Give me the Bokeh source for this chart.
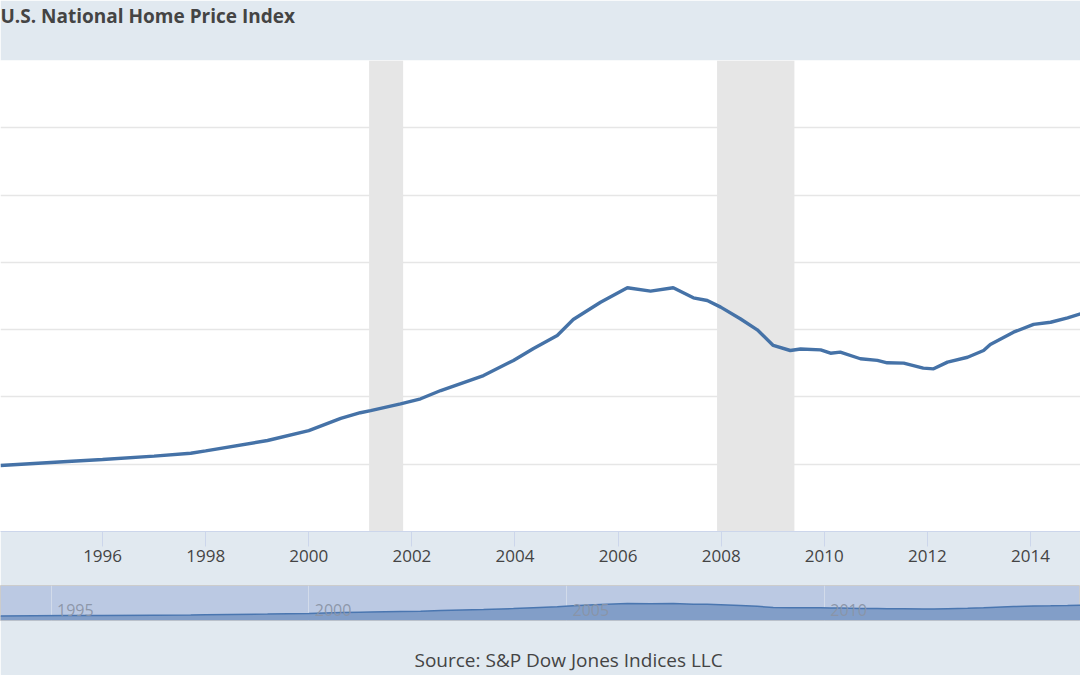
from bokeh.plotting import figure
from bokeh.models import Grid, SingleIntervalTicker, FixedTicker, Title, BasicTickFormatter
from bokeh.layouts import column
from bokeh.embed import file_html
from bokeh.resources import INLINE
from bokeh.core.properties import value

# ---- data ----
years = [1994.02, 1995.32, 1996.00, 1997.00, 1997.71, 1998.00, 1999.20, 2000.00,
         2000.62, 2001.00, 2001.20, 2001.78, 2002.17, 2002.56, 2003.39, 2003.97,
         2004.36, 2004.82, 2005.13, 2005.66, 2006.18, 2006.63, 2007.07, 2007.46,
         2007.73, 2007.99, 2008.37, 2008.70, 2009.01, 2009.34, 2009.54, 2009.93,
         2010.12, 2010.31, 2010.70, 2011.03, 2011.22, 2011.54, 2011.92, 2012.12,
         2012.39, 2012.78, 2013.09, 2013.22, 2013.67, 2014.06, 2014.39, 2014.72,
         2014.97]
index_values = [79.2, 81.6, 82.8, 84.8, 86.5, 87.9, 94.1, 100.0,
                107.2, 110.6, 111.9, 115.9, 118.9, 123.8, 132.7, 141.7,
                148.8, 156.5, 166.0, 176.3, 184.9, 182.9, 184.9, 178.9,
                177.3, 173.4, 166.5, 159.9, 150.6, 147.6, 148.5, 148.0,
                146.0, 146.6, 142.7, 141.7, 140.3, 140.1, 137.1, 136.7,
                140.7, 143.6, 147.6, 151.2, 158.5, 163.1, 164.4, 167.0,
                169.4]
recession_start = [2001.17, 2007.92]
recession_end = [2001.83, 2009.42]
x_ticks = [1994, 1996, 1998, 2000, 2002, 2004, 2006, 2008, 2010, 2012, 2014]
nav_label_years = [1995, 2000, 2005, 2010]
nav_labels = ["1995", "2000", "2005", "2010"]

TITLE = "U.S. National Home Price Index"
SOURCE = "Source: S&P Dow Jones Indices LLC"

W = 1080
X_LO, X_HI = 1994.02, 2014.97
Y_LO, Y_HI = 40, 320
NAV_LO, NAV_HI = 40, 337
BAND = "#e1e9f0"
FONT = "Open Sans"

# ---- main chart ----
p = figure(width=W, height=585, x_range=(X_LO, X_HI), y_range=(Y_LO, Y_HI),
           y_axis_location=None, output_backend="svg", toolbar_location=None,
           min_border_left=0, min_border_right=0, min_border_top=60,
           min_border_bottom=54, background_fill_color="white",
           border_fill_color=BAND, outline_line_color=None)

# real title on the outer edge, spacer title between it and the frame
p.title.text = TITLE
p.title.text_font = FONT
p.title.text_font_size = "19px"
p.title.text_font_style = "bold"
p.title.text_color = "#444444"
p.title.align = "left"
p.title.offset = 0
p.title.vertical_align = "top"
p.title.standoff = 2
p.add_layout(Title(text=" ", text_font=FONT, text_font_size="19px", standoff=1), "above")

p.xgrid.grid_line_color = None
p.ygrid.grid_line_color = None
p.add_layout(Grid(dimension=1, ticker=SingleIntervalTicker(interval=40),
                  grid_line_color="#e6e6e6", grid_line_width=1.5))

p.xaxis.ticker = FixedTicker(ticks=x_ticks)
p.xaxis.formatter = BasicTickFormatter(use_scientific=False)
p.xaxis.axis_line_color = "#ccd6eb"
p.xaxis.major_tick_line_color = "#ccd6eb"
p.xaxis.major_tick_in = 0
p.xaxis.major_tick_out = 15
p.xaxis.minor_tick_line_color = None
p.xaxis.major_label_standoff = 3
p.xaxis.major_label_text_font = FONT
p.xaxis.major_label_text_font_size = "17px"
p.xaxis.major_label_text_color = "#444444"

p.quad(left=recession_start, right=recession_end, bottom=Y_LO, top=Y_HI,
       fill_color="#e6e6e6", line_color=None)
p.line(years, index_values, line_color="#4572a7", line_width=3.4)

# ---- navigator ----
n = figure(width=W, height=90, x_range=p.x_range, y_range=(NAV_LO, NAV_HI),
           x_axis_location=None, y_axis_location=None,
           output_backend="svg", toolbar_location=None,
           min_border_left=0, min_border_right=0, min_border_top=0,
           min_border_bottom=50, background_fill_color="#bbc9e3",
           border_fill_color=BAND, outline_line_color="#cccccc")
n.xgrid.grid_line_color = None
n.ygrid.grid_line_color = None
n.add_layout(Grid(dimension=0, ticker=SingleIntervalTicker(interval=5),
                  grid_line_color="#d2dbea", grid_line_width=1))
n.varea(x=years, y1=NAV_LO, y2=index_values, fill_color="#829ec8")
n.line(years, index_values, line_color="#4a76b0", line_width=1.5)
n.text(x=nav_label_years, y=[NAV_LO] * len(nav_label_years), text=nav_labels,
       x_offset=6, y_offset=-5, text_baseline="bottom", text_align="left",
       text_font=value(FONT), text_font_size="16px",
       text_color="#8a94a6", text_alpha=0.95)

# spacer below the navigator, then the source line
n.add_layout(Title(text=" ", text_font=FONT, text_font_size="12px", standoff=6), "below")
n.add_layout(Title(text=SOURCE, align="left", offset=414, vertical_align="top",
                   standoff=2, text_font=FONT, text_font_size="19px",
                   text_font_style="normal", text_color="#444444"), "below")

layout = column(p, n, spacing=0)
open("out.html", "w").write(file_html(layout, INLINE))
